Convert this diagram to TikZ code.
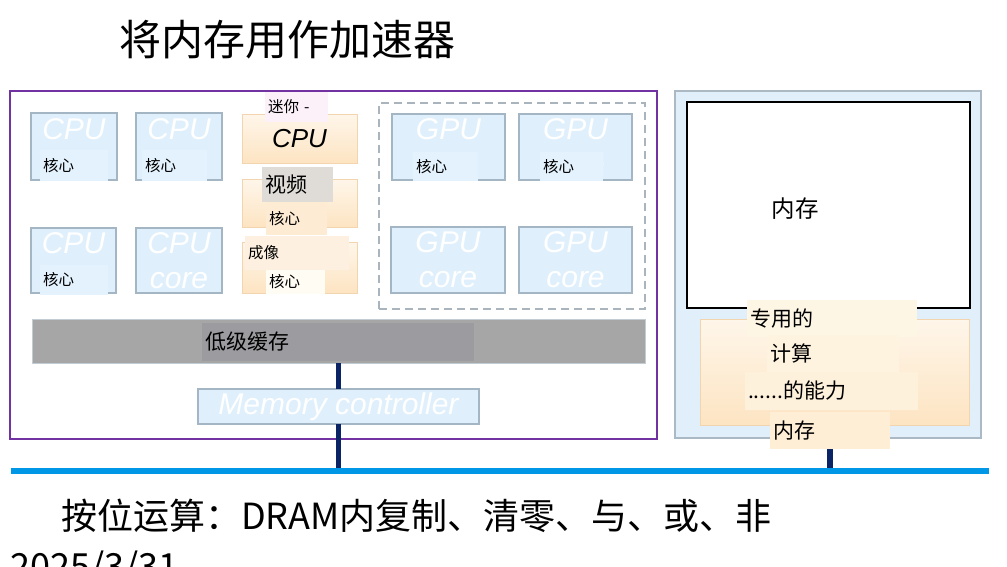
\documentclass[tikz,border=0pt]{standalone}
\usepackage{fontspec}
\setmainfont{Liberation Sans}
\newfontfamily\cjk{Noto Sans CJK SC}
\usetikzlibrary{positioning}
\definecolor{corefill}{HTML}{DFF0FC}
\definecolor{coreline}{HTML}{A4B6C4}
\definecolor{chipline}{HTML}{7232A2}
\definecolor{panelfill}{HTML}{E1EFFA}
\definecolor{panelline}{HTML}{ABB9C5}
\definecolor{dashline}{HTML}{A9B4BD}
\definecolor{minitop}{HTML}{FEF6EA}
\definecolor{minibot}{HTML}{FDE4C2}
\definecolor{miniline}{HTML}{F2D5AE}
\definecolor{cachefill}{HTML}{A6A6A6}
\definecolor{cacheline}{HTML}{C3CCD3}
\definecolor{navy}{HTML}{0A2466}
\definecolor{busblue}{HTML}{0098E6}
\definecolor{corepatch}{HTML}{E3F2FD}
\definecolor{pinkpatch}{HTML}{FCF1F9}
\definecolor{graypatch}{HTML}{DFDBD7}
\definecolor{peachpatch}{HTML}{FDEBD3}
\definecolor{creampatch}{HTML}{FDF0E0}
\definecolor{whitepatch}{HTML}{FFFCF4}
\definecolor{cachepatch}{HTML}{9B9BA0}
\definecolor{mempatchA}{HTML}{FEF6E5}
\definecolor{mempatchB}{HTML}{FEF3DF}
\definecolor{mempatchC}{HTML}{FEF1DC}
\definecolor{mempatchD}{HTML}{FEEED5}

\begin{document}
\begin{tikzpicture}[x=1pt, y=-1pt,
    box/.style={anchor=north west, inner sep=0pt, outer sep=0pt},
    core/.style={box, draw=coreline, fill=corefill, line width=1.5pt, text=white,
        align=center, font=\itshape\fontsize{30}{35}\selectfont},
    mini/.style={box, draw=miniline, top color=minitop, bottom color=minibot,
        minimum width=115pt},
    patch/.style={box, fill=#1, inner xsep=3pt, align=left},
    small/.style={font=\cjk\fontsize{15.5}{18}\selectfont},
    big/.style={font=\cjk\fontsize{21}{24}\selectfont},
    link/.style={draw=navy, line width=5.5pt},
    bus/.style={draw=busblue, line width=6pt}]

    % Page and title
    \useasboundingbox (0,0) rectangle (1007,566);
    \node (title) [anchor=base west, inner sep=0pt, font=\cjk\fontsize{42}{50}\selectfont] at (119,55) {将内存用作加速器};

    % Outer frames
    \node (chip) [box, draw=chipline, line width=2pt, minimum width=647pt, minimum height=348pt] at (10,91) {};
    \node (dram) [box, draw=panelline, fill=panelfill, line width=1.5pt, minimum width=306pt, minimum height=347pt] at (675,91) {};
    \node (array) [box, draw=black, fill=white, line width=2pt, minimum width=283pt, minimum height=206pt] at (687,102) {};
    \node (arraytxt) [font=\cjk\fontsize{23.5}{28}\selectfont] at (795,208.5) {内存};
    \node (gpus) [box, draw=dashline, dash pattern=on 8pt off 5pt, line width=2pt, minimum width=266pt, minimum height=206pt] at (379,103) {};

    % CPU cores
    \node (cpu1) [core, minimum width=86pt, minimum height=67pt] at (31,113) {CPU\\core};
    \node (cpu2) [core, minimum width=86pt, minimum height=67pt] at (136,113) {CPU\\core};
    \node (cpu3) [core, minimum width=85pt, minimum height=65pt] at (31,228) {CPU\\core};
    \node (cpu4) [core, minimum width=86pt, minimum height=65pt] at (136,228) {CPU\\core};

    % GPU cores
    \node (gpu1) [core, minimum width=113pt, minimum height=66pt] at (392,114) {GPU\\core};
    \node (gpu2) [core, minimum width=113pt, minimum height=66pt] at (519,114) {GPU\\core};
    \node (gpu3) [core, minimum width=114pt, minimum height=66pt] at (391,227) {GPU\\core};
    \node (gpu4) [core, minimum width=113pt, minimum height=66pt] at (519,227) {GPU\\core};

    % mini cores
    \node (mini1) [mini, minimum height=49pt, font=\itshape\fontsize{26}{30}\selectfont] at (242,114) {CPU};
    \node (mini2) [mini, minimum height=48pt] at (242,179) {};
    \node (mini3) [mini, minimum height=51pt] at (242,242) {};

    % labels laid over the cores
    \node (cpu1lbl) [patch=corepatch, small, minimum width=68pt, text width=62pt, minimum height=31pt] at (40,150) {核心};
    \node (cpu2lbl) [patch=corepatch, small, minimum width=65pt, text width=59pt, minimum height=31pt] at (142,150) {核心};
    \node (cpu3lbl) [patch=corepatch, small, minimum width=68pt, text width=62pt, minimum height=30pt] at (40,265) {核心};
    \node (gpu1lbl) [patch=corepatch, small, minimum width=65pt, text width=59pt, minimum height=29pt] at (413,152) {核心};
    \node (gpu2lbl) [patch=corepatch, small, minimum width=63pt, text width=57pt, minimum height=29pt] at (540,152) {核心};
    \node (mini1lbl) [patch=pinkpatch, small, minimum width=63pt, text width=57pt, minimum height=30pt] at (265,92) {迷你 -};
    \node (mini2lbl) [patch=graypatch, big, minimum width=71pt, text width=65pt, minimum height=35pt] at (262,167) {视频};
    \node (mini2core) [patch=peachpatch, small, minimum width=61pt, text width=55pt, minimum height=33pt] at (266,202) {核心};
    \node (mini3lbl) [patch=creampatch, small, minimum width=104pt, text width=98pt, minimum height=34pt] at (245,236) {成像};
    \node (mini3core) [patch=whitepatch, small, minimum width=59pt, text width=53pt, minimum height=24pt] at (266,270) {核心};

    % cache and memory controller
    \node (cache) [box, draw=cacheline, fill=cachefill, line width=1pt, minimum width=613pt, minimum height=44pt] at (32,319) {};
    \node (cachelbl) [patch=cachepatch, big, minimum width=272pt, text width=266pt, minimum height=38pt] at (202,323) {低级缓存};
    \node (mc) [core, minimum width=281pt, minimum height=35pt, font=\itshape\fontsize{30}{32}\selectfont] at (198,389) {Memory controller};

    % compute logic beside the memory array
    \node (logic) [mini, minimum width=269pt, minimum height=106pt] at (700,319) {};
    \node (mem1) [patch=mempatchA, big, minimum width=170pt, text width=164pt, minimum height=37pt] at (747,300) {专用的};
    \node (mem2) [patch=mempatchB, big, minimum width=132pt, text width=126pt, minimum height=37pt] at (767,335) {计算};
    \node (mem3) [patch=mempatchC, big, minimum width=173pt, text width=167pt, minimum height=38pt] at (745,372) {......的能力};
    \node (mem4) [patch=mempatchD, big, minimum width=120pt, text width=114pt, minimum height=37pt] at (770,412) {内存};

    % Bus and links
    \coordinate (busW) at (11,471);
    \coordinate (busE) at (989,471);
    \coordinate (busA) at (cache.south |- busW);
    \coordinate (busB) at (mem4.south |- busW);
    \draw[link] (cache.south) -- (mc.north);
    \draw[link] (mc.south) -- (busA);
    \draw[link] (mem4.south) -- (busB);
    \draw[bus] (busW) -- (busE);

    % Bottom text
    \node (ops) [anchor=base west, inner sep=0pt, font=\cjk\fontsize{36}{40}\selectfont] at (61,529) {按位运算：DRAM内复制、清零、与、或、非};
    \node (date) [anchor=base west, inner sep=0pt, font=\cjk\fontsize{36}{40}\selectfont] at (10,579) {2025/3/31};
\end{tikzpicture}
\end{document}
